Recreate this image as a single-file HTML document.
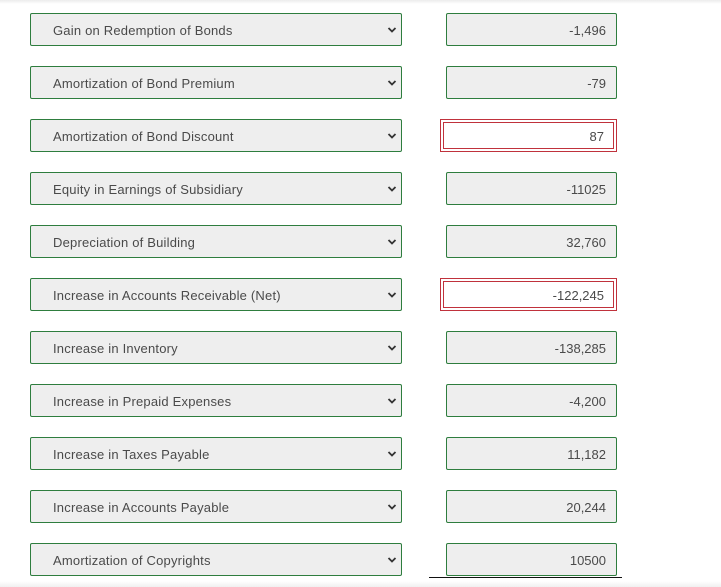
<!DOCTYPE html>
<html><head><meta charset="utf-8"><style>
html,body{margin:0;padding:0;width:721px;height:587px;overflow:hidden;background:#fff;font-family:"Liberation Sans",sans-serif;}
.top{position:absolute;left:0;top:0;width:721px;height:4px;background:linear-gradient(#ececec,#fff);}
.bot{position:absolute;left:0;top:581px;width:721px;height:6px;background:linear-gradient(#fff,#f0f0f0);}
.sel{position:absolute;left:30px;width:370px;height:31px;border:1px solid #2e7d3e;border-radius:2px;background:#eeeeee;box-sizing:content-box;}
.sel span{position:absolute;left:22px;top:9px;font-size:13px;color:#4a4a4a;letter-spacing:0.2px;}
.sel svg{position:absolute;right:4px;top:12px;}
.inp{position:absolute;left:446px;width:169px;height:31px;border:1px solid #2e7d3e;border-radius:2px;background:#eeeeee;}
.inp span{position:absolute;right:10px;top:9px;font-size:13px;color:#4a4a4a;}
.bad{position:absolute;left:440px;width:175px;height:31px;border:1px solid #c0323c;background:#fff;}
.bad .in{position:absolute;left:2px;top:2px;right:2px;bottom:2px;border:1px solid #c0323c;}
.bad span{position:absolute;right:12px;top:9px;font-size:13px;color:#4a4a4a;}
.ul{position:absolute;left:429px;top:577px;width:193px;height:1px;background:#111;}
</style></head><body>
<div class="top"></div>
<div id="rows"></div>
<div class="ul"></div>
<div class="bot"></div>
<script>
const labels=["Gain on Redemption of Bonds","Amortization of Bond Premium","Amortization of Bond Discount","Equity in Earnings of Subsidiary","Depreciation of Building","Increase in Accounts Receivable (Net)","Increase in Inventory","Increase in Prepaid Expenses","Increase in Taxes Payable","Increase in Accounts Payable","Amortization of Copyrights"];
const values=["-1,496","-79","87","-11025","32,760","-122,245","-138,285","-4,200","11,182","20,244","10500"];
const invalid=[false,false,true,false,false,true,false,false,false,false,false];
const root=document.getElementById('rows');
labels.forEach((l,i)=>{
  const top=13+i*53;
  const s=document.createElement('div');
  s.className='sel';s.style.top=top+'px';
  
  
  s.innerHTML='<span>'+l+'</span><svg width="10" height="8" viewBox="0 0 10 8"><path d="M1.5 2 L5 5.5 L8.5 2" fill="none" stroke="#333" stroke-width="1.8"/></svg>';
  root.appendChild(s);
  const v=document.createElement('div');
  if(invalid[i]){v.className='bad';v.style.top=top+'px';v.innerHTML='<div class="in"></div><span>'+values[i]+'</span>';}
  else{v.className='inp';v.style.top=top+'px';v.innerHTML='<span>'+values[i]+'</span>';}
  
  
  root.appendChild(v);
});
</script>
</body></html>
